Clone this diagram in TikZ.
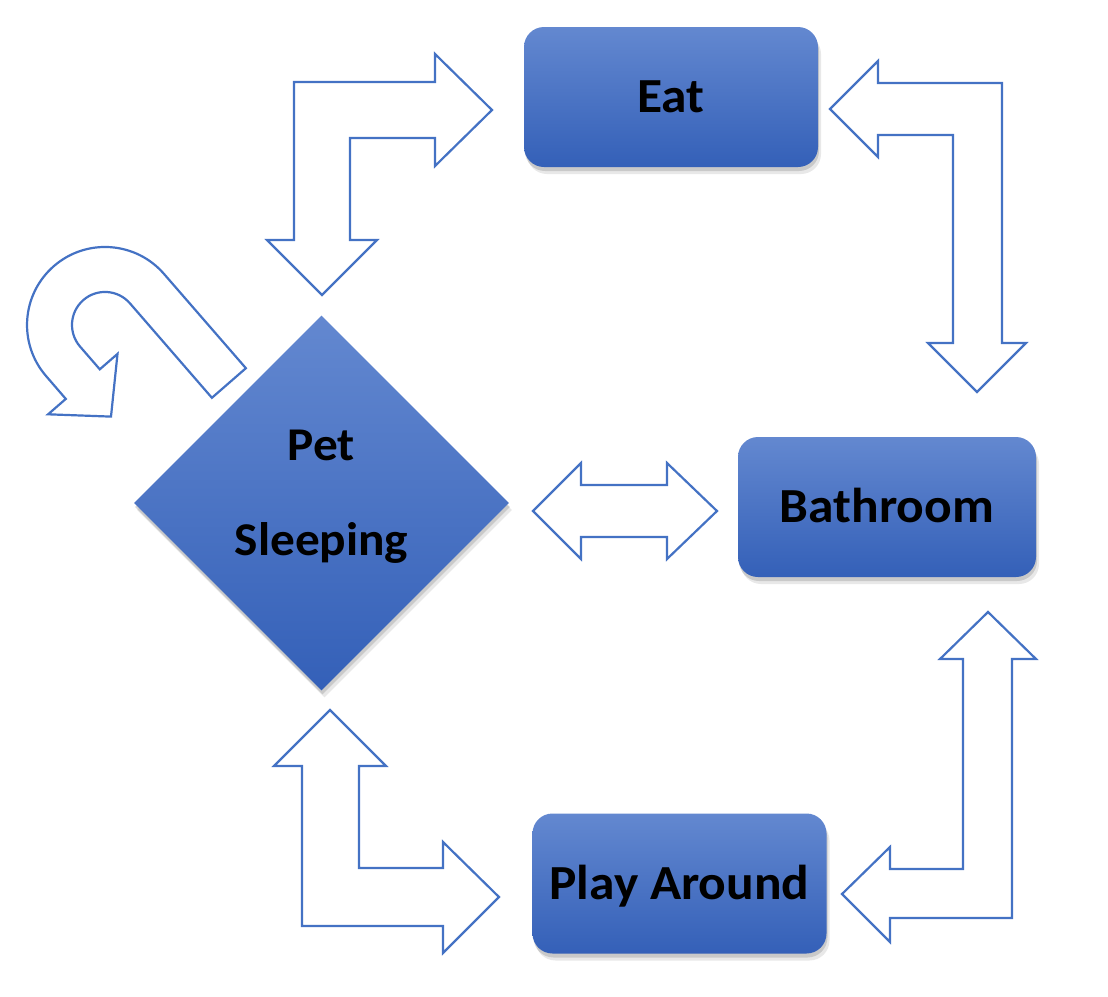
\documentclass[tikz,border=0pt]{standalone}
\usepackage{fontspec}
\setmainfont{Carlito}[FakeStretch=1.05]
\usetikzlibrary{shapes.geometric,shadows}

\definecolor{arrowblue}{RGB}{68,114,196}
\definecolor{boxtop}{RGB}{99,136,208}
\definecolor{boxbot}{RGB}{52,96,184}

\tikzset{
  softshadow/.style={drop shadow={opacity=0.18, shadow xshift=3pt, shadow yshift=-7pt},
    drop shadow={opacity=0.3, shadow xshift=1pt, shadow yshift=-4pt}},
  box/.style={rectangle, rounded corners=20pt, minimum width=294pt, minimum height=140pt,
    top color=boxtop, bottom color=boxbot, draw=none, softshadow,
    font=\fontsize{49}{59}\selectfont\bfseries, text=black, text height=31pt, text depth=0pt},
  state/.style={diamond, minimum width=375pt, minimum height=375pt, inner sep=0pt,
    top color=boxtop, bottom color=boxbot, draw=none, softshadow},
  statetext/.style={font=\fontsize{47}{95}\selectfont\bfseries, text=black, align=center},
  blockarrow/.style={draw=arrowblue, line width=2.2pt, fill=white, line join=miter}
}

\begin{document}
\begin{tikzpicture}[x=1pt, y=-1pt]
  \useasboundingbox (0,0) rectangle (1108,996);

  % states
  \node[box] (eat) at (671,97) {Eat};
  \node[box, minimum width=298pt] (bath) at (887,507) {Bathroom};
  \node[box] (play) at (679.5,883.5) {Play Around};
  \node[state] (sleep) at (321.5,503) {};
  \node[statetext] (sleeplabel) at (321.5,497) {Pet\\Sleeping};

  % sleeping <-> eat
  \draw[blockarrow] (294,82) -- (435,82) -- (435,54) -- (492,110) -- (435,166) -- (435,138)
    -- (350,138) -- (350,240) -- (377,240) -- (322,295) -- (267,240) -- (294,240) -- cycle;
  % eat <-> bathroom
  \draw[blockarrow] (1002,83) -- (878,83) -- (878,61) -- (830,109) -- (878,157) -- (878,135)
    -- (953,135) -- (953,343) -- (928,343) -- (977,392) -- (1026,343) -- (1002,343) -- cycle;
  % sleeping <-> bathroom
  \draw[blockarrow] (533,511) -- (581,463) -- (581,485) -- (667,485) -- (667,463) -- (717,511)
    -- (667,559) -- (667,537) -- (581,537) -- (581,559) -- cycle;
  % sleeping <-> play
  \draw[blockarrow] (302,926) -- (302,766) -- (274,766) -- (330,710) -- (386,766) -- (359,766)
    -- (359,868) -- (443,868) -- (443,842) -- (499,897) -- (443,953) -- (443,926) -- cycle;
  % play <-> bathroom
  \draw[blockarrow] (1012,918) -- (1012,659) -- (1036,659) -- (988,612) -- (940,659) -- (963,659)
    -- (963,869) -- (890,869) -- (890,847) -- (842,894) -- (890,942) -- (890,918) -- cycle;
  % keep sleeping
  \coordinate (uc) at (105,325);
  \draw[blockarrow] (245.9,368.2) -- (163.9,273.8) arc[start angle=-41, end angle=-221, radius=78]
    -- (65.8,398.9) -- (48.1,414.3) -- (111,416.6) -- (117.5,353.9) -- (99.8,369.3)
    -- (80.1,346.6) arc[start angle=139, end angle=319, radius=33] -- (211.9,397.8) -- cycle;
\end{tikzpicture}
\end{document}
